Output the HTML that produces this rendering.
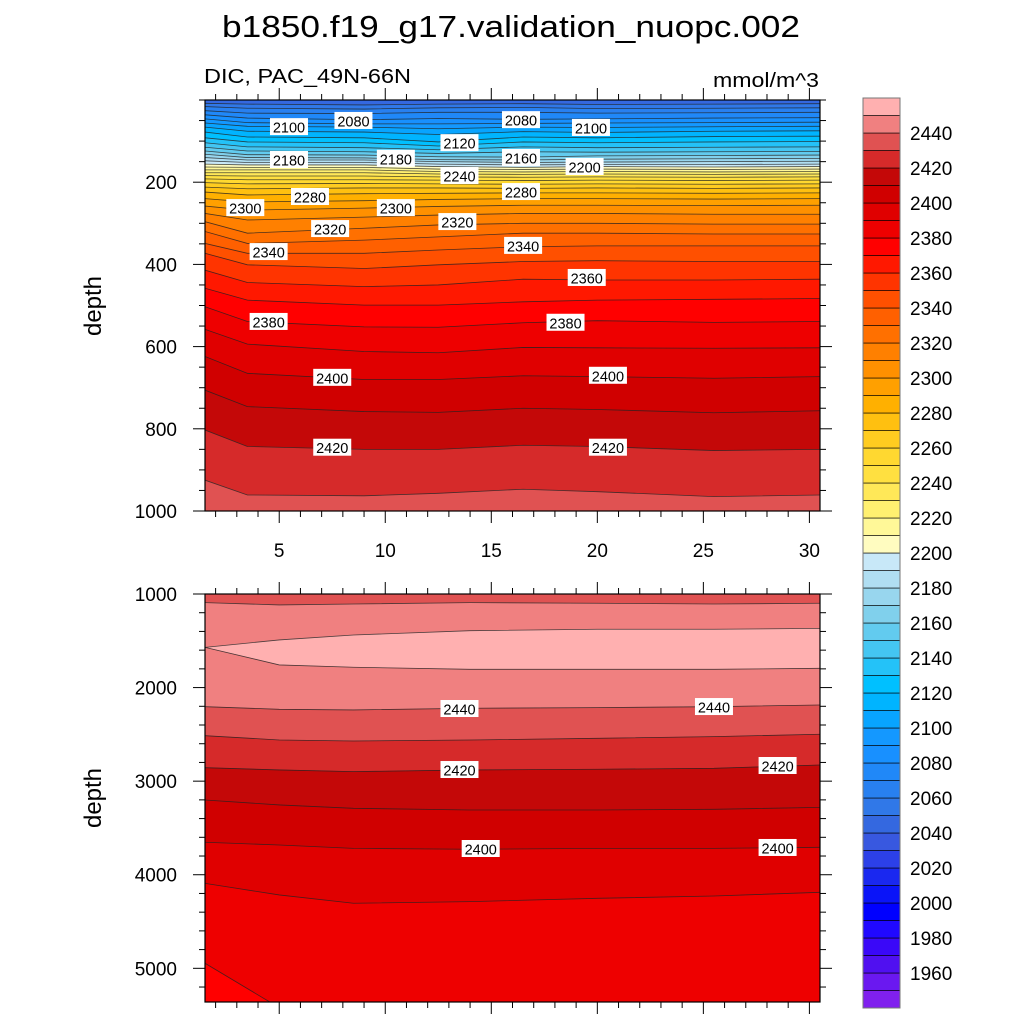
<!DOCTYPE html>
<html><head><meta charset="utf-8"><style>
html,body{margin:0;padding:0;background:#fff;}
svg{display:block;font-family:"Liberation Sans",Arial,sans-serif;}
</style></head><body>
<svg id="chart" width="1024" height="1024" viewBox="0 0 1024 1024" xmlns="http://www.w3.org/2000/svg">
<text x="511" y="37" font-size="31" text-anchor="middle" textLength="578" lengthAdjust="spacingAndGlyphs">b1850.f19_g17.validation_nuopc.002</text>
<text x="204" y="83" font-size="20" textLength="207" lengthAdjust="spacingAndGlyphs">DIC, PAC_49N-66N</text>
<text x="819" y="87" font-size="20" text-anchor="end" textLength="106" lengthAdjust="spacingAndGlyphs">mmol/m^3</text>
<text x="0" y="0" font-size="24" text-anchor="middle" transform="translate(101,306) rotate(-90)">depth</text>
<text x="0" y="0" font-size="24" text-anchor="middle" transform="translate(101,798) rotate(-90)">depth</text>
<g id="top"></g>
<g id="bot"></g>
<g id="cbar"></g>
</svg>
<script>
// ---------- data ----------
const topX = [1.5, 3.5, 9, 12.5, 16.5, 20, 25.5, 30.5];
const topLevels = [2050,2060,2070,2080,2090,2100,2110,2120,2130,2140,2150,2160,2170,2180,2190,2200,2210,2220,2230,2240,2250,2260,2270,2280,2290,2300,2310,2320,2330,2340,2350,2360,2370,2380,2390,2400,2410,2420,2430];
const topDepths = [
[8,10,12,10,9,11,10,9],
[16,20,22,19,18,21,20,19],
[26,32,33,30,30,32,31,30],
[36,44,48,45,47,46,44,43],
[46,55,58,58,57,56,55,54],
[56,64,66,70,66,67,65,64],
[66,76,78,84,77,79,76,75],
[78,90,92,102,90,92,89,88],
[92,102,104,112,102,104,102,101],
[104,114,116,121,114,116,115,114],
[115,124,126,130,126,127,126,125],
[124,133,134,138,139,136,135,134],
[132,140,141,145,146,144,143,142],
[140,146,146,150,152,151,150,149],
[148,152,152,156,158,157,157,156],
[156,158,158,162,164,162,163,162],
[163,164,164,168,169,168,169,168],
[170,170,170,174,175,174,175,174],
[177,177,177,180,181,180,181,180],
[184,185,185,187,188,187,188,187],
[192,194,194,195,196,195,196,195],
[201,204,203,204,205,204,205,204],
[212,216,214,214,215,214,215,214],
[224,231,228,227,226,226,227,226],
[240,248,245,242,240,240,241,240],
[258,268,263,259,256,256,257,256],
[276,292,285,280,276,276,278,278],
[296,324,312,304,300,300,302,302],
[320,349,341,333,324,324,326,326],
[349,373,373,365,357,355,355,355],
[373,401,410,401,393,391,393,393],
[414,444,454,450,436,438,438,436],
[458,487,499,499,491,487,485,483],
[503,539,552,553,542,537,541,539],
[558,594,612,615,602,603,604,603],
[624,665,680,680,671,673,677,673],
[706,746,758,760,750,753,761,756],
[803,843,850,850,840,843,853,850],
[925,961,963,957,947,953,965,961]];
const topEdgeBands = [2040, 2430];
const topLabelText = ["2100","2080","2120","2080","2100","2180","2180","2160","2200","2240","2280","2280","2300","2300","2320","2320","2340","2340","2360","2380","2380","2400","2400","2420","2420"];
const topLabelX = [5.46,8.5,13.5,16.4,19.7,5.46,10.5,16.4,19.4,13.5,16.4,6.45,3.4,10.5,7.4,13.4,4.5,16.5,19.5,4.5,18.5,7.5,20.5,7.5,20.5];
const topLabelDepth = [66,51,105,49,68,146,143,141,163,185,224,236,263,263,314,297,370,355,433,540,542,676,671,846,846];

const botX = [1.5, 5, 8.5, 14, 20, 25.5, 30.5];
const botLevels = [2440,2450,2450,2440,2430,2420,2410,2400,2390,2380];
const botDepths = [
[1092,1117,1107,1092,1099,1107,1099],
[1570,1491,1438,1392,1377,1377,1367],
[1570,1758,1783,1805,1805,1805,1794],
[2204,2232,2239,2221,2214,2204,2186],
[2514,2560,2571,2560,2542,2524,2499],
[2856,2880,2898,2880,2873,2863,2827],
[3201,3254,3290,3308,3308,3301,3280],
[3653,3682,3718,3728,3718,3718,3707],
[4092,4216,4305,4287,4252,4227,4188],
[4946,5420,5600,5600,5600,5600,5600]];
const botEdgeBands = [2430, 2370];
const botLabelText = ["2440","2440","2420","2420","2400","2400"];
const botLabelX = [13.5,25.5,13.5,28.5,14.5,28.5];
const botLabelDepth = [2229,2208,2881,2838,3725,3714];

const xTickValues = [5,10,15,20,25,30];
const topYTicks = [200,400,600,800,1000];
const botYTicks = [1000,2000,3000,4000,5000];
const cbarLevels = [1940,1950,1960,1970,1980,1990,2000,2010,2020,2030,2040,2050,2060,2070,2080,2090,2100,2110,2120,2130,2140,2150,2160,2170,2180,2190,2200,2210,2220,2230,2240,2250,2260,2270,2280,2290,2300,2310,2320,2330,2340,2350,2360,2370,2380,2390,2400,2410,2420,2430,2440,2450];
const cbarTickLabels = [1960,1980,2000,2020,2040,2060,2080,2100,2120,2140,2160,2180,2200,2220,2240,2260,2280,2300,2320,2340,2360,2380,2400,2420,2440];

// palette (style) indexed by band lower level
const palette = ["#8020ee","#6a18f0","#5010f0","#3a08f8","#2008ff","#0000ff","#0a14f8","#1a28f0","#2c40e8","#3858e0","#3468e0","#3078e8","#2880f0","#2088f8","#1890ff","#1498ff","#08a4ff","#00b4ff","#00c0ff","#24c2f8","#44c6f2","#62cbef","#80d0ec","#98d6ee","#b0def2","#c8e8f8","#fffcc0","#fff898","#fff070","#ffe858","#ffe040","#ffd830","#ffcc20","#ffc010","#ffb000","#ffa000","#ff9000","#ff8000","#ff7000","#ff6000","#ff5000","#ff3400","#ff1800","#ff0000","#ee0000","#e00000","#d00000","#c40808","#d62a2a","#e05252","#f08080","#ffb0b0"];
function colorFor(level){return palette[Math.round((level-1940)/10)];}

// ---------- drawing ----------
const NS="http://www.w3.org/2000/svg";
function mk(tag,attrs,parent){const e=document.createElementNS(NS,tag);for(const k in attrs)e.setAttribute(k,attrs[k]);parent.appendChild(e);return e;}

const PX0=205, PX1=820, XMIN=1.5, XMAX=30.5;
function xScale(v){return PX0+(v-XMIN)/(XMAX-XMIN)*(PX1-PX0);}

function drawPanel(g, id, y0, y1, dMin, dMax, xs, levels, depths, edgeBands, lblT, lblX, lblD, yTicks, yMinorStep, showXLabels){
  const yS = d => y0+(d-dMin)/(dMax-dMin)*(y1-y0);
  const clip = mk('clipPath',{id:'clip-'+id},g);
  mk('rect',{x:PX0,y:y0,width:PX1-PX0,height:y1-y0},clip);
  const area = mk('g',{'clip-path':'url(#clip-'+id+')'},g);
  
  
  const pts = i => xs.map((x,j)=>[xScale(x),yS(depths[i][j])]);
  const n = levels.length;
  for(let b=0;b<=n;b++){
    let top, bot, lev;
    if(b===0){top=xs.map(x=>[xScale(x),y0-5]);lev=edgeBands[0];}
    else top=pts(b-1);
    if(b===n){bot=xs.map(x=>[xScale(x),y1+5]);lev=edgeBands[1];}
    else bot=pts(b);
    if(b>0&&b<n){const a=levels[b-1],c=levels[b];lev=(a===c)?a:Math.min(a,c);}
    const poly=top.concat(bot.slice().reverse()).map(p=>p.join(',')).join(' ');
    const el=mk('polygon',{points:poly,fill:colorFor(lev),stroke:colorFor(lev),'stroke-width':0.5},area);
    
    
  }
  for(let i=0;i<n;i++){
    const el=mk('polyline',{points:pts(i).map(p=>p.join(',')).join(' '),fill:'none',stroke:'#222','stroke-width':0.8,'stroke-opacity':0.8},area);
    
    
  }
  for(let i=0;i<lblT.length;i++){
    const cx=xScale(lblX[i]), cy=yS(lblD[i]);
    const lg=mk('g',{transform:'translate('+cx+','+cy+')'},g);
    
    
    mk('rect',{x:-19,y:-9,width:38,height:17,fill:'#fff'},lg);
    const t=mk('text',{x:0,y:5.5,'font-size':14.5,'text-anchor':'middle',fill:'#000'},lg);
    t.textContent=lblT[i];
  }
  // frame
  const fr=mk('rect',{x:PX0,y:y0,width:PX1-PX0,height:y1-y0,fill:'none',stroke:'#000','stroke-width':1.2},g);
  
  
  // x ticks
  for(let v=2;v<=30;v++){
    const x=xScale(v), L=(v%5===0)?12:6;
    mk('line',{x1:x,y1:y0,x2:x,y2:y0-L,stroke:'#000','stroke-width':1},g);
    mk('line',{x1:x,y1:y1,x2:x,y2:y1+L,stroke:'#000','stroke-width':1},g);
  }
  if(showXLabels){
    xTickValues.forEach(v=>{
      const t=mk('text',{x:xScale(v),y:y1+46,'font-size':19,'text-anchor':'middle'},g);
      
      
      t.textContent=v;
    });
  }
  // y ticks
  for(let d=Math.ceil(dMin/yMinorStep)*yMinorStep; d<=dMax; d+=yMinorStep){
    const y=yS(d), major=yTicks.indexOf(d)>=0, L=major?12:6;
    mk('line',{x1:PX0,y1:y,x2:PX0-L,y2:y,stroke:'#000','stroke-width':1},g);
    mk('line',{x1:PX1,y1:y,x2:PX1+L,y2:y,stroke:'#000','stroke-width':1},g);
  }
  yTicks.forEach(d=>{
    const t=mk('text',{x:PX0-28,y:yS(d)+7,'font-size':19,'text-anchor':'end'},g);
    
    
    t.textContent=d;
  });
}

drawPanel(document.getElementById('top'),'top',100,511,0,1000,topX,topLevels,topDepths,topEdgeBands,topLabelText,topLabelX,topLabelDepth,topYTicks,50,true);
drawPanel(document.getElementById('bot'),'bottom',594,1002,1000,5360,botX,botLevels,botDepths,botEdgeBands,botLabelText,botLabelX,botLabelDepth,botYTicks,200,false);

// colorbar
(function(){
  const g=document.getElementById('cbar');
  const CX=863, CW=37, CT=98, CB=1008;
  const step=(CB-CT)/cbarLevels.length;
  const cy = lev => CB-(lev-cbarLevels[0])/10*step;
  cbarLevels.forEach(lev=>{
    const r=mk('rect',{x:CX,y:cy(lev+10),width:CW,height:step,fill:colorFor(lev),stroke:'#000','stroke-width':0.6},g);
    
    
  });
  mk('rect',{x:CX,y:CT,width:CW,height:CB-CT,fill:'none',stroke:'#777','stroke-width':1},g);
  cbarTickLabels.forEach(lev=>{
    const t=mk('text',{x:910,y:cy(lev)+7,'font-size':19},g);
    
    
    t.textContent=lev;
  });
})();
</script>
</body></html>
